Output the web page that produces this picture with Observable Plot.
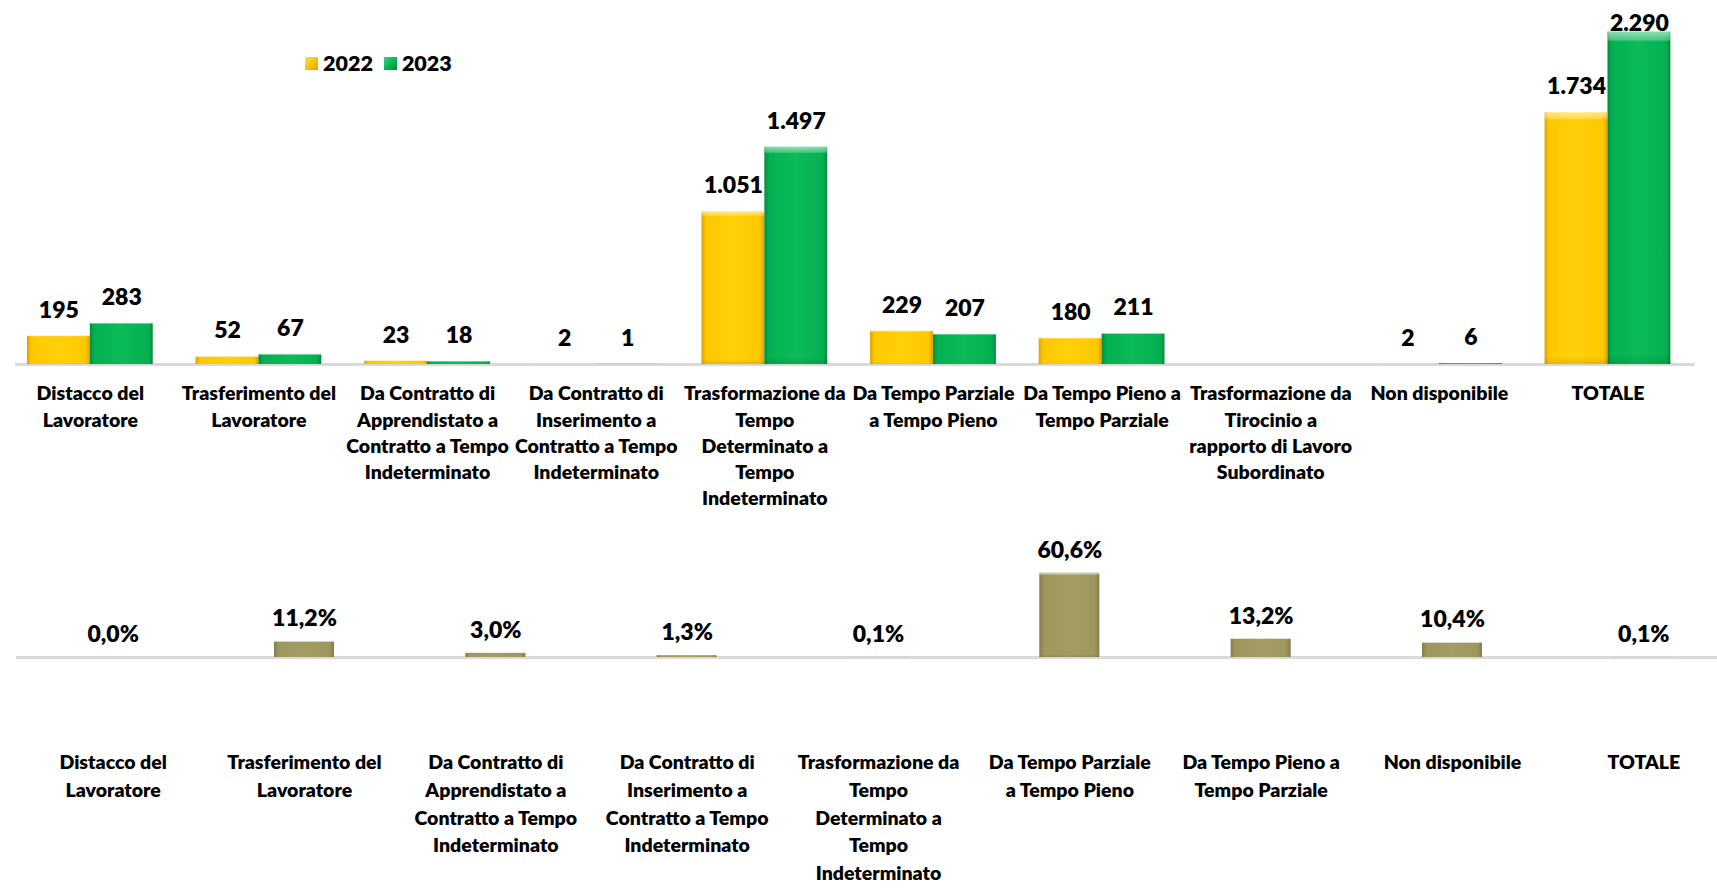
<!DOCTYPE html>
<html>
<head>
<meta charset="utf-8">
<script src="https://cdn.jsdelivr.net/npm/d3@7"></script>
<script src="https://cdn.jsdelivr.net/npm/@observablehq/plot@0.6"></script>
<style>
  html, body { margin: 0; padding: 0; background: #fff; }
  #wrap { position: relative; width: 1717px; height: 888px; overflow: hidden; font-family: Lato, sans-serif; }
  #topChart { position: absolute; left: 0; top: 0; }
  #bottomChart { position: absolute; left: 0; top: 510px; }
  #legend { position: absolute; left: 305px; top: 50px; display: flex; align-items: center; font-weight: 800; font-size: 21.5px; color: #000; line-height: 26px; }
  .sw { display: inline-block; width: 13px; height: 13px; margin-right: 5px; }
  .item { display: inline-flex; align-items: center; margin-right: 11px; }
</style>
</head>
<body>
<svg width="0" height="0" style="position:absolute">
  <defs>
    <linearGradient id="g2022" x1="0" y1="0" x2="1" y2="0">
      <stop offset="0" stop-color="#dca300"/>
      <stop offset="0.07" stop-color="#fdc800"/>
      <stop offset="0.5" stop-color="#ffd00a"/>
      <stop offset="0.93" stop-color="#fdc800"/>
      <stop offset="1" stop-color="#dca300"/>
    </linearGradient>
    <linearGradient id="g2023" x1="0" y1="0" x2="1" y2="0">
      <stop offset="0" stop-color="#008c3c"/>
      <stop offset="0.07" stop-color="#05b052"/>
      <stop offset="0.5" stop-color="#0cbb59"/>
      <stop offset="0.93" stop-color="#05b052"/>
      <stop offset="1" stop-color="#008c3c"/>
    </linearGradient>
    <linearGradient id="gPct" x1="0" y1="0" x2="1" y2="0">
      <stop offset="0" stop-color="#857e4a"/>
      <stop offset="0.08" stop-color="#9d965f"/>
      <stop offset="0.5" stop-color="#a39c65"/>
      <stop offset="0.92" stop-color="#9d965f"/>
      <stop offset="1" stop-color="#857e4a"/>
    </linearGradient>
    <linearGradient id="bevel" x1="0" y1="0" x2="0" y2="1">
      <stop offset="0" stop-color="#fff" stop-opacity="0.55"/>
      <stop offset="0.025" stop-color="#fff" stop-opacity="0.25"/>
      <stop offset="0.03" stop-color="#fff" stop-opacity="0"/>
      <stop offset="0.97" stop-color="#000" stop-opacity="0"/>
      <stop offset="1" stop-color="#000" stop-opacity="0.1"/>
    </linearGradient>
  </defs>
</svg>
<div id="wrap">
  <div id="topChart"></div>
  <div id="legend">
    <span class="item"><span class="sw" style="background: linear-gradient(135deg, #ffe14a, #f5c000 60%, #d9a000);"></span>2022</span>
    <span class="item"><span class="sw" style="background: linear-gradient(135deg, #3fd47f, #00b050 60%, #008c3c);"></span>2023</span>
  </div>
  <div id="bottomChart"></div>
</div>
<script>
// ---- Data ----
const categories = [
  "Distacco del\nLavoratore",
  "Trasferimento del\nLavoratore",
  "Da Contratto di\nApprendistato a\nContratto a Tempo\nIndeterminato",
  "Da Contratto di\nInserimento a\nContratto a Tempo\nIndeterminato",
  "Trasformazione da\nTempo\nDeterminato a\nTempo\nIndeterminato",
  "Da Tempo Parziale\na Tempo Pieno",
  "Da Tempo Pieno a\nTempo Parziale",
  "Trasformazione da\nTirocinio a\nrapporto di Lavoro\nSubordinato",
  "Non disponibile",
  "TOTALE"
];
const years = ["2022", "2023"];
const values2022 = [195, 52, 23, 2, 1051, 229, 180, null, 2, 1734];
const values2023 = [283, 67, 18, 1, 1497, 207, 211, null, 6, 2290];

const pctCategories = [
  "Distacco del\nLavoratore",
  "Trasferimento del\nLavoratore",
  "Da Contratto di\nApprendistato a\nContratto a Tempo\nIndeterminato",
  "Da Contratto di\nInserimento a\nContratto a Tempo\nIndeterminato",
  "Trasformazione da\nTempo\nDeterminato a\nTempo\nIndeterminato",
  "Da Tempo Parziale\na Tempo Pieno",
  "Da Tempo Pieno a\nTempo Parziale",
  "Non disponibile",
  "TOTALE"
];
const pctValues = [0.0, 11.2, 3.0, 1.3, 0.1, 60.6, 13.2, 10.4, 0.1];

// label clamp inside plot area (as in the original chart)
const labelCap = 2170;

// ---- Build tables ----
const rows = [];
categories.forEach((c, i) => {
  rows.push({category: c, year: "2022", value: values2022[i]});
  rows.push({category: c, year: "2023", value: values2023[i]});
});
const present = rows.filter(d => d.value != null);
const pctRows = pctCategories.map((c, i) => ({category: c, value: pctValues[i]}));

const itLocale = d3.formatLocale({decimal: ",", thousands: ".", grouping: [3], currency: ["", " €"]});
const fmtInt = itLocale.format(",d");
const fmtPct = v => itLocale.format(".1f")(v) + "%";

const fontFam = "Lato, sans-serif";

const topPlot = Plot.plot({
  width: 1717,
  height: 510,
  marginTop: 31.7,
  marginBottom: 146,
  marginLeft: 5.5,
  marginRight: 25.2,
  style: {fontFamily: fontFam, color: "#000", background: "transparent"},
  fx: {domain: categories, paddingInner: 0.254, paddingOuter: 0.127, round: false, label: null},
  x: {domain: years, padding: 0, round: false, axis: null},
  y: {domain: [0, 2290], axis: null},
  marks: [
    Plot.frame({anchor: "bottom", facet: "super", stroke: "#d9d9d9", strokeWidth: 3, insetLeft: -11, insetRight: -22}),
    Plot.barY(present.filter(d => d.year === "2022"), {fx: "category", x: "year", y: "value", fill: "url(#g2022)"}),
    Plot.barY(present.filter(d => d.year === "2023"), {fx: "category", x: "year", y: "value", fill: "url(#g2023)"}),
    Plot.barY(present, {fx: "category", x: "year", y: "value", fill: "url(#bevel)"}),
    Plot.text(present, {
      fx: "category", x: "year", y: d => Math.min(d.value, labelCap),
      text: d => fmtInt(d.value), dy: -26, lineAnchor: "middle",
      fontSize: 23, fontWeight: 800, fill: "#000"
    }),
    Plot.axisFx({
      anchor: "bottom", tickSize: 0, tickPadding: 17, label: null,
      fontSize: 19.5, fontWeight: 800, lineHeight: 1.35, fill: "#000"
    })
  ]
});
document.getElementById("topChart").appendChild(topPlot);

const bottomPlot = Plot.plot({
  width: 1717,
  height: 378,
  marginTop: 62.7,
  marginBottom: 231,
  marginLeft: 16,
  marginRight: 0,
  style: {fontFamily: fontFam, color: "#000", background: "transparent"},
  x: {domain: pctCategories, range: [17, 1739], paddingInner: 0.686, paddingOuter: 0.343, round: false, label: null},
  y: {domain: [0, 60.6], axis: null},
  marks: [
    Plot.ruleY([0], {stroke: "#d9d9d9", strokeWidth: 3}),
    Plot.barY(pctRows, {x: "category", y: "value", fill: "url(#gPct)"}),
    Plot.barY(pctRows, {x: "category", y: "value", fill: "url(#bevel)"}),
    Plot.text(pctRows, {
      x: "category", y: "value", text: d => fmtPct(d.value),
      dy: -23, lineAnchor: "middle", fontSize: 23, fontWeight: 800, fill: "#000"
    }),
    Plot.axisX({
      anchor: "bottom", tickSize: 0, tickPadding: 92, label: null,
      fontSize: 19.5, fontWeight: 800, lineHeight: 1.42, fill: "#000"
    })
  ]
});
document.getElementById("bottomChart").appendChild(bottomPlot);
</script>
</body>
</html>
